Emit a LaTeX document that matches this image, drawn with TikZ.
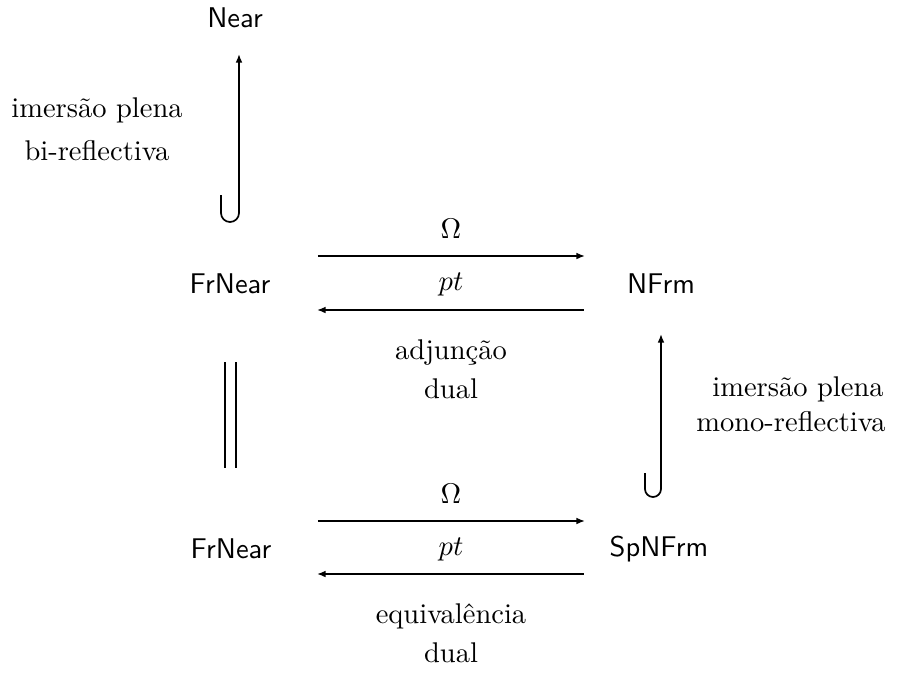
\documentclass[tikz,border=0pt]{standalone}
\usetikzlibrary{arrows.meta}
\begin{document}
\begin{tikzpicture}[x=0.3509pt,y=-0.3509pt,
  lbl/.style={anchor=base,inner sep=0pt,font=\fontsize{10}{12}\selectfont},
  obj/.style={anchor=base,inner sep=0pt,font=\sffamily},
  conn/.style={line width=0.6pt},
  arr/.style={line width=0.6pt,-{Latex[length=3pt,width=2.4pt]}}]
\useasboundingbox (0,0) rectangle (901,673);
% objects
\node[obj] (near) at (235,27) {Near};
\node[obj] (frnearA) at (230,293) {FrNear};
\node[obj] (nfrm) at (661,293) {NFrm};
\node[obj] (frnearB) at (231,558) {FrNear};
\node[obj] (spnfrm) at (659,556) {SpNFrm};
% labels
\node[lbl] (l1a) at (97,117) {imersão plena};
\node[lbl] (l1b) at (97,160) {bi-reflectiva};
\node[lbl] (omA) at (451,238) {$\Omega$};
\node[lbl] (ptA) at (451,290) {$pt$};
\node[lbl] (adj) at (451,359) {adjunção};
\node[lbl] (dualA) at (451,398) {dual};
\node[lbl] (l2a) at (798,396) {imersão plena};
\node[lbl] (l2b) at (791,431) {mono-reflectiva};
\node[lbl] (omB) at (451,503) {$\Omega$};
\node[lbl] (ptB) at (451,555) {$pt$};
\node[lbl] (eqv) at (451,623) {equivalência};
\node[lbl] (dualB) at (451,662) {dual};
% connector end points
\coordinate (nearTip) at (239,54);
\coordinate (nearFoot) at (239,213);
\coordinate (nfrmTip) at (661,334);
\coordinate (nfrmFoot) at (661,489);
\coordinate (aL1) at (318,256); \coordinate (aR1) at (585,256);
\coordinate (aL2) at (317,310); \coordinate (aR2) at (584,310);
\coordinate (bL1) at (318,521); \coordinate (bR1) at (585,521);
\coordinate (bL2) at (317,574); \coordinate (bR2) at (584,574);
\coordinate (eqT1) at (225,362); \coordinate (eqB1) at (225,468);
\coordinate (eqT2) at (236,362); \coordinate (eqB2) at (236,468);
% hooked arrows
\draw[arr] (nearFoot) ++(-18,-18) -- ++(0,18)
  arc[start angle=180,end angle=0,radius=9] -- (nearTip);
\draw[arr] (nfrmFoot) ++(-16,-16) -- ++(0,16)
  arc[start angle=180,end angle=0,radius=8] -- (nfrmTip);
% horizontal arrows
\draw[arr] (aL1) -- (aR1);
\draw[arr] (aR2) -- (aL2);
\draw[arr] (bL1) -- (bR1);
\draw[arr] (bR2) -- (bL2);
% equality
\draw[conn] (eqT1) -- (eqB1);
\draw[conn] (eqT2) -- (eqB2);
\end{tikzpicture}
\end{document}
